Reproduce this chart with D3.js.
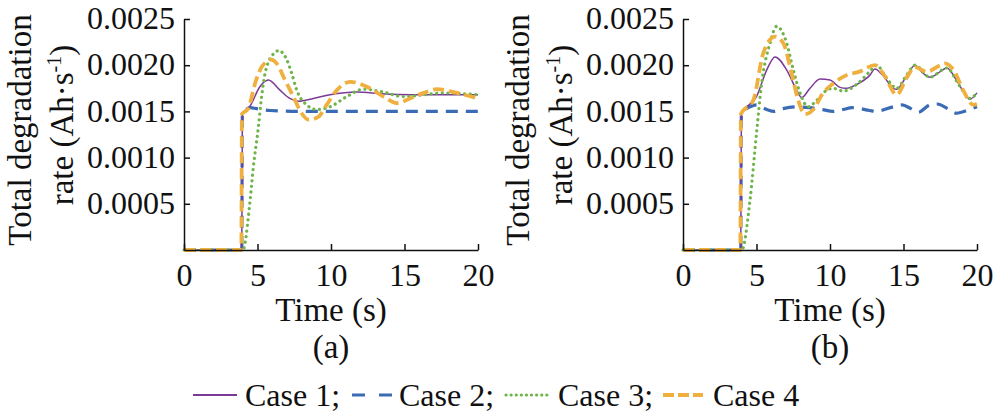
<!DOCTYPE html>
<html>
<head>
<meta charset="utf-8">
<script src="https://cdn.jsdelivr.net/npm/d3@7"></script>
<style>
  body { margin: 0; background: #fff; }
  svg text { font-family: "Liberation Serif", "Times New Roman", serif; fill: #111; }
</style>
</head>
<body>
<svg id="chart" width="994" height="414"></svg>
<script>
// values, [time (s), rate (Ah/s)]
const case1A = [[0,0],[3.93,0],[3.97,0.00147],[4.5,0.00156],[5.17,0.00177],[5.74,0.00184],[6.53,0.00173],[7.2,0.00164],[7.78,0.00161],[8.8,0.00164],[9.93,0.00168],[11.75,0.00171],[13.5,0.00169],[15.5,0.00168],[17.5,0.00168],[20,0.00168]];
const case2A = [[0,0],[3.93,0],[3.97,0.00147],[4.5,0.00154],[4.95,0.00153],[5.85,0.00151],[8,0.0015],[12,0.0015],[16,0.0015],[20,0.0015]];
const case3A = [[0,0],[4.0,0],[4.5,0.00054],[4.72,0.0009],[5.06,0.00133],[5.28,0.00166],[5.62,0.00198],[6.3,0.00215],[6.42,0.00216],[6.99,0.00206],[7.33,0.00191],[7.67,0.00173],[8.35,0.00157],[9.03,0.00152],[9.93,0.00155],[11.07,0.00166],[12.2,0.00174],[13.56,0.00171],[14.9,0.00166],[16.3,0.00168],[17.6,0.0017],[20,0.00168]];
const case4A = [[0,0],[3.9,0],[3.94,0.00147],[4.37,0.00153],[4.83,0.0018],[5.28,0.00198],[5.95,0.00206],[6.3,0.00202],[6.87,0.00184],[7.44,0.00166],[8.0,0.00148],[8.46,0.00141],[9.14,0.00144],[9.7,0.00157],[10.4,0.00173],[11.3,0.00182],[12.65,0.00175],[13.56,0.00166],[14.47,0.00159],[15.37,0.00164],[16.3,0.0017],[17.2,0.00174],[18.55,0.0017],[20,0.00164]];

const case1B = [[0,0],[3.93,0],[3.97,0.00147],[5.0,0.00166],[5.7,0.00195],[6.26,0.00209],[7.05,0.00195],[7.73,0.00173],[8.07,0.00165],[8.64,0.00175],[9.32,0.00185],[10.0,0.00184],[10.68,0.00176],[11.1,0.00175],[11.8,0.00179],[12.7,0.00189],[13.06,0.00196],[13.6,0.00189],[14.3,0.00175],[14.54,0.00174],[15.2,0.00188],[15.78,0.002],[16.35,0.00191],[16.8,0.00187],[17.5,0.00193],[17.94,0.00197],[18.6,0.00184],[19.3,0.00166],[19.5,0.00163],[20,0.0017]];
const case2B = [[0,0],[3.93,0],[3.97,0.00147],[4.56,0.00155],[5.0,0.00157],[5.7,0.00152],[6.2,0.0015],[6.8,0.00153],[7.7,0.00155],[8.6,0.00154],[9.5,0.00152],[10.2,0.0015],[10.9,0.00152],[11.5,0.00154],[12.7,0.00151],[13.1,0.0015],[14.3,0.00155],[14.9,0.00157],[15.5,0.00153],[16.0,0.00149],[16.8,0.00157],[17.3,0.00158],[18.0,0.00153],[18.6,0.00148],[19.5,0.00152],[20,0.00155]];
const case3B = [[0,0],[4.0,0],[4.56,0.00054],[5.0,0.00126],[5.35,0.0018],[5.92,0.00224],[6.37,0.00242],[7.05,0.00224],[7.5,0.00195],[7.96,0.0017],[8.52,0.00155],[9.1,0.00162],[9.78,0.00173],[10.2,0.00175],[10.9,0.00172],[11.8,0.00179],[12.7,0.00193],[13.18,0.002],[13.8,0.00187],[14.54,0.00175],[15.2,0.00189],[15.78,0.002],[16.8,0.00187],[17.94,0.00197],[18.84,0.00177],[19.5,0.00164],[20,0.0017]];
const case4B = [[0,0],[3.9,0],[3.94,0.00147],[4.78,0.00162],[5.46,0.00213],[6.26,0.00231],[6.82,0.00224],[7.39,0.00191],[7.84,0.00162],[8.3,0.00147],[8.86,0.00152],[9.54,0.0017],[10.2,0.0018],[11.1,0.00189],[12.0,0.00193],[13.06,0.002],[13.7,0.00189],[14.54,0.00168],[15.2,0.00186],[15.78,0.00198],[16.57,0.00193],[17.5,0.002],[17.8,0.00202],[18.4,0.00195],[19.06,0.00173],[19.75,0.00157],[20,0.00158]];

const xTicks = [0, 5, 10, 15, 20];
const yTicks = [0.0005, 0.001, 0.0015, 0.002, 0.0025];
const caseNames = ["Case 1;", "Case 2;", "Case 3;", "Case 4"];
const panelNames = ["(a)", "(b)"];

const styles = [
  { color: "#7b3a97", width: 1.5, dash: null, cap: "butt" },
  { color: "#3a6bb4", width: 3.2, dash: "12,8", cap: "butt" },
  { color: "#6db548", width: 3.2, dash: "0.1,5.5", cap: "round" },
  { color: "#f0b03f", width: 3.8, dash: "11,5", cap: "butt" },
];

const svg = d3.select("#chart");
const tickSize = 32;
const labelSize = 33;

const panels = [
  { left: 184, series: [case1A, case2A, case3A, case4A], name: panelNames[0], labelX: [31, 73] },
  { left: 683, series: [case1B, case2B, case3B, case4B], name: panelNames[1], labelX: [529, 572] },
];

const plotTop = 19, plotBottom = 250, plotW = 294;

panels.forEach((p) => {
  const x = d3.scaleLinear().domain([0, 20]).range([p.left, p.left + plotW]);
  const y = d3.scaleLinear().domain([0, 0.0025]).range([plotBottom, plotTop]);

  const line = d3.line()
    .x((d) => x(d[0]))
    .y((d) => y(d[1]))
    .curve(d3.curveMonotoneX);

  // draw case 2 first so the others sit above it, like the picture
  [1, 0, 2, 3].forEach((i) => {
    const s = styles[i];
    svg.append("path")
      .datum(p.series[i])
      .attr("d", line)
      .attr("fill", "none")
      .attr("stroke", s.color)
      .attr("stroke-width", s.width)
      .attr("stroke-dasharray", s.dash)
      .attr("stroke-linecap", s.cap)
      .attr("stroke-linejoin", "round");
  });

  const xAxis = svg.append("g")
    .attr("transform", `translate(0,${plotBottom})`)
    .call(d3.axisBottom(x).tickValues(xTicks).tickSizeInner(-6).tickSizeOuter(0).tickPadding(13));

  const yAxis = svg.append("g")
    .attr("transform", `translate(${p.left},0)`)
    .call(d3.axisLeft(y).tickValues(yTicks).tickFormat(d3.format(".4f")).tickSizeInner(-6).tickSizeOuter(0).tickPadding(9));

  [xAxis, yAxis].forEach((g) => {
    g.selectAll("path, line").attr("stroke", "#111").attr("stroke-width", 1.5);
    g.selectAll("text")
      .attr("font-family", "Liberation Serif")
      .attr("font-size", tickSize)
      .attr("fill", "#111");
  });
  yAxis.selectAll("text").attr("dy", "0.3em");

  const cx = p.left + plotW / 2;
  svg.append("text")
    .attr("x", cx).attr("y", 321)
    .attr("text-anchor", "middle")
    .attr("font-size", labelSize)
    .text("Time (s)");

  svg.append("text")
    .attr("x", cx).attr("y", 358)
    .attr("text-anchor", "middle")
    .attr("font-size", labelSize)
    .text(p.name);

  svg.append("text")
    .attr("transform", `translate(${p.labelX[0]},130) rotate(-90)`)
    .attr("text-anchor", "middle")
    .attr("font-size", labelSize)
    .text("Total degradation");

  const rate = svg.append("text")
    .attr("transform", `translate(${p.labelX[1]},125) rotate(-90)`)
    .attr("text-anchor", "middle")
    .attr("font-size", labelSize);
  rate.append("tspan").text("rate (Ah·s");
  rate.append("tspan").attr("dy", -12).attr("font-size", 20).text("-1");
  rate.append("tspan").attr("dy", 12).text(")");
});

// legend
const legendX = [193, 352, 506, 663];
const legendLen = [44, 40, 44, 40];
const legendTextX = [245, 399, 558, 713];
const legend = svg.append("g").attr("transform", "translate(0,395)");
caseNames.forEach((name, i) => {
  const s = styles[i];
  legend.append("line")
    .attr("x1", legendX[i]).attr("x2", legendX[i] + legendLen[i])
    .attr("y1", 0).attr("y2", 0)
    .attr("stroke", s.color)
    .attr("stroke-width", i === 0 ? 2 : s.width)
    .attr("stroke-dasharray", i === 1 ? "13,14" : i === 2 ? "0.1,5" : i === 3 ? "11,4" : null)
    .attr("stroke-linecap", s.cap);
  legend.append("text")
    .attr("x", legendTextX[i])
    .attr("y", 11)
    .attr("font-size", 32)
    .text(name);
});
</script>
</body>
</html>
